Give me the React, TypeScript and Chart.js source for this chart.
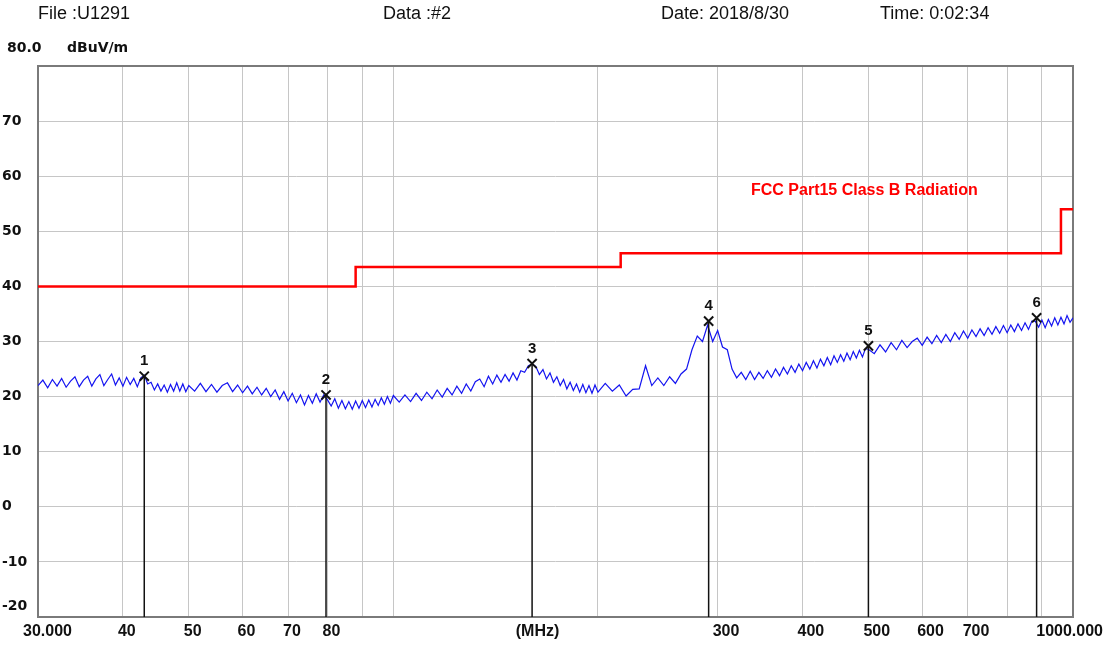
import React, { useEffect, useRef } from "react";
import { Chart, registerables } from "chart.js";

Chart.register(...registerables);

// ---------- data ----------
const headerTexts = ["File :U1291", "Data :#2", "Date: 2018/8/30", "Time: 0:02:34"];
const yTopLabel = "80.0";
const yUnit = "dBuV/m";
const xUnit = "(MHz)";
const limitName = "FCC Part15 Class B Radiation";

const xGridFreqs = [30, 40, 50, 60, 70, 80, 90, 100, 200, 300, 400, 500, 600, 700, 800, 900, 1000];
const xTickValues = [30, 40, 50, 60, 70, 80, 300, 400, 500, 600, 700, 1000];
const xTickLabels = ["30.000", "40", "50", "60", "70", "80", "300", "400", "500", "600", "700", "1000.000"];
const yTickValues = [70, 60, 50, 40, 30, 20, 10, 0, -10, -20];

const limitFreqs = [30, 88, 216, 960, 1000];
const limitLevels = [40, 43.5, 46, 54, 54];

const markerIds = ["1", "2", "3", "4", "5", "6"];
const markerFreqs = [43, 79.6, 160, 291, 500, 884];
const markerLevels = [23.7, 20.3, 26.0, 33.7, 29.2, 34.3];

const traceFreqs = [
  30, 30.5, 31, 31.5, 32, 32.5, 33, 33.5, 34, 34.5,
  35, 35.5, 36, 36.5, 37, 37.5, 38, 38.5, 39, 39.5,
  40, 40.5, 41, 41.5, 42, 42.5, 43, 43.5, 44, 44.5,
  45, 45.5, 46, 46.5, 47, 47.5, 48, 48.5, 49, 49.5,
  50,
  51, 52, 53, 54, 55, 56, 57, 58, 59, 60,
  61, 62, 63, 64, 65, 66, 67, 68, 69, 70,
  71, 72, 73, 74, 75, 76, 77, 78, 79, 80,
  81, 82, 83, 84, 85, 86, 87, 88, 89, 90,
  91, 92, 93, 94, 95, 96, 97, 98, 99, 100,
  102, 104, 106, 108, 110, 112, 114, 116, 118, 120,
  122, 124, 126, 128, 130, 132, 134, 136, 138, 140,
  142, 144, 146, 148, 150, 152, 154, 156, 158, 160,
  162, 164, 166, 168, 170, 172, 174, 176, 178, 180,
  182, 184, 186, 188, 190, 192, 194, 196, 198, 200,
  205, 210, 215, 220, 225, 230, 235, 240, 245, 250,
  255, 260, 265, 270, 275, 280, 285, 290, 295, 300,
  305, 310, 315, 320, 325, 330, 335, 340, 345, 350,
  355, 360, 365, 370, 375, 380, 385, 390, 395, 400,
  405, 410, 415, 420, 425, 430, 435, 440, 445, 450,
  455, 460, 465, 470, 475, 480, 485, 490, 495, 500,
  510, 520, 530, 540, 550, 560, 570, 580, 590, 600,
  610, 620, 630, 640, 650, 660, 670, 680, 690, 700,
  710, 720, 730, 740, 750, 760, 770, 780, 790, 800,
  810, 820, 830, 840, 850, 860, 870, 880, 890, 900,
  910, 920, 930, 940, 950, 960, 970, 980, 990, 1000,
];

const traceLevels = [
  22.0, 23.0, 21.6, 23.1, 21.9, 23.3, 21.7, 22.8, 23.6, 21.8,
  23.0, 23.7, 21.9, 23.2, 24.0, 22.0, 23.1, 24.1, 22.1, 23.4,
  21.9, 23.5, 22.2, 23.3, 21.8, 23.4, 23.9, 22.3, 22.6, 21.2,
  22.3, 21.0, 22.1, 20.8, 22.2, 21.0, 22.5, 21.0, 22.3, 20.9,
  22.0,
  21.0, 22.4, 20.9, 22.2, 20.8, 22.0, 22.5, 20.9, 22.1, 20.7,
  21.9, 20.5, 21.7, 20.3, 21.5, 20.0, 21.2, 19.5, 20.9, 19.2,
  20.6, 18.9, 20.3, 18.5, 20.2, 18.8, 20.5, 19.0, 20.3, 19.4,
  18.3, 19.6, 17.9, 19.3, 17.8, 19.1, 17.7, 19.2, 17.9, 19.3,
  18.0, 19.4, 18.1, 19.5, 18.4, 19.8, 18.6, 20.0, 18.8, 20.2,
  19.0, 20.3, 19.1, 20.6, 19.3, 20.8, 19.6, 21.2, 19.9, 21.5,
  20.3, 21.9, 20.6, 22.3, 21.0, 22.7, 23.2, 21.8, 23.7, 22.3,
  23.9, 22.6, 24.0, 22.8, 24.3, 23.0, 24.7, 24.4, 25.6, 25.9,
  25.5, 24.0, 24.9, 23.2, 24.3, 22.6, 23.6, 22.0, 23.1, 21.4,
  22.6, 21.1, 22.3, 20.8, 22.2, 20.7, 22.0, 20.6, 22.1, 20.8,
  22.4, 21.0, 22.1, 20.1, 21.3, 21.4, 25.6, 22.0, 23.4, 22.0,
  23.6, 22.4, 24.1, 25.0, 28.5, 31.0, 30.0, 33.0, 30.0, 32.0,
  29.0, 28.5, 25.0, 23.4, 24.4, 23.1, 24.6, 23.1, 24.4, 23.3,
  24.7, 23.5, 25.0, 23.8, 25.3, 24.1, 25.6, 24.4, 25.9, 24.7,
  26.2, 25.0, 26.5, 25.2, 26.8, 25.6, 27.1, 25.8, 27.4, 26.2,
  27.6, 26.4, 27.9, 26.7, 28.2, 27.0, 28.4, 27.2, 28.7, 28.6,
  27.8, 29.4, 28.1, 29.8, 28.5, 30.2, 28.9, 30.0, 30.6, 29.3,
  30.8, 29.6, 31.1, 29.8, 31.3, 30.0, 31.6, 30.4, 31.9, 30.6,
  32.1, 30.9, 32.3, 31.1, 32.5, 31.3, 32.7, 31.5, 32.9, 31.6,
  33.0, 31.8, 33.2, 32.0, 33.4, 32.2, 33.7, 33.7, 32.6, 33.9,
  32.5, 34.0, 32.8, 34.3, 33.0, 34.4, 33.2, 34.7, 33.5, 34.3,
];

const Y_MIN = -20;
const Y_MAX = 80;
const X_MIN = 30;
const X_MAX = 1000;

const BOLD_AXIS = "bold 14px 'DejaVu Sans', sans-serif";
const BOLD_X = "bold 16px 'Liberation Sans', Arial, sans-serif";
const HEADER_FONT = "18px 'Liberation Sans', Arial, sans-serif";

const overlayPlugin = {
  id: "emcOverlay",
  beforeDatasetsDraw(chart: any) {
    const { ctx, chartArea } = chart;
    ctx.save();
    ctx.strokeStyle = "#7a7a7a";
    ctx.lineWidth = 2;
    ctx.strokeRect(chartArea.left, chartArea.top, chartArea.right - chartArea.left, chartArea.bottom - chartArea.top);
    ctx.restore();
  },
  afterDraw(chart: any) {
    const { ctx, chartArea } = chart;
    const xs = chart.scales.x;
    const ys = chart.scales.y;
    ctx.save();
    ctx.textBaseline = "middle";

    // header line
    ctx.font = HEADER_FONT;
    ctx.fillStyle = "#111";
    ctx.textAlign = "left";
    const headerX = [38, 383, 661, 880];
    headerTexts.forEach((t, i) => ctx.fillText(t, headerX[i], 14));

    // y unit header
    ctx.font = "bold 14px 'DejaVu Sans', sans-serif";
    ctx.fillText(yTopLabel, 7, 48);
    ctx.fillText(yUnit, 67, 48);

    // y tick labels
    ctx.font = BOLD_AXIS;
    yTickValues.forEach((v) => {
      const py = Math.min(ys.getPixelForValue(v), chartArea.bottom - 11);
      ctx.fillText(String(v), 2, py);
    });

    // x tick labels
    ctx.font = BOLD_X;
    const ly = chartArea.bottom + 15;
    xTickValues.forEach((v, i) => {
      const px = xs.getPixelForValue(v);
      if (i === 0) {
        ctx.textAlign = "left";
        ctx.fillText(xTickLabels[i], px - 15, ly);
      } else if (i === xTickValues.length - 1) {
        ctx.textAlign = "right";
        ctx.fillText(xTickLabels[i], px + 30, ly);
      } else {
        ctx.textAlign = "left";
        ctx.fillText(xTickLabels[i], px - 5, ly);
      }
    });
    ctx.textAlign = "center";
    ctx.fillText(xUnit, (chartArea.left + chartArea.right) / 2 - 18, ly);

    // marker numbers
    ctx.font = "bold 15px 'Liberation Sans', Arial, sans-serif";
    ctx.fillStyle = "#111";
    ctx.textAlign = "center";
    markerIds.forEach((id, i) => {
      const px = xs.getPixelForValue(markerFreqs[i]);
      const py = ys.getPixelForValue(markerLevels[i]);
      ctx.fillText(id, px, py - 15);
    });

    // limit name
    ctx.font = "bold 16px 'Liberation Sans', Arial, sans-serif";
    ctx.fillStyle = "#ff0000";
    ctx.textAlign = "left";
    ctx.fillText(limitName, 751, 191);

    ctx.restore();
  },
};

export default function App() {
  const canvasRef = useRef<HTMLCanvasElement | null>(null);

  useEffect(() => {
    const canvas = canvasRef.current;
    if (!canvas) return;

    const traceData = traceFreqs.map((f, i) => ({ x: f, y: traceLevels[i] }));
    const limitData = limitFreqs.map((f, i) => ({ x: f, y: limitLevels[i] }));
    const markerPoints = markerFreqs.map((f, i) => ({ x: f, y: markerLevels[i] }));
    const markerStems: { x: number; y: number | null }[] = [];
    markerFreqs.forEach((f, i) => {
      markerStems.push({ x: f, y: markerLevels[i] });
      markerStems.push({ x: f, y: Y_MIN });
      markerStems.push({ x: f, y: null });
    });

    const chart = new Chart(canvas, {
      type: "line",
      data: {
        datasets: [
          {
            label: "Marker stems",
            data: markerStems as any,
            borderColor: "#111111",
            borderWidth: 1.5,
            pointRadius: 0,
            spanGaps: false,
            order: 1,
          },
          {
            label: "Level",
            data: traceData,
            borderColor: "#1414f0",
            borderWidth: 1.2,
            pointRadius: 0,
            tension: 0,
            order: 3,
          },
          {
            label: limitName,
            data: limitData,
            borderColor: "#ff0000",
            borderWidth: 2.5,
            pointRadius: 0,
            stepped: "before",
            order: 2,
          },
          {
            label: "Markers",
            data: markerPoints,
            showLine: false,
            pointStyle: "crossRot",
            pointRadius: 6.5,
            pointBorderWidth: 2,
            pointBorderColor: "#111111",
            borderColor: "#111111",
            order: 0,
          },
        ],
      },
      options: {
        animation: false,
        responsive: false,
        maintainAspectRatio: false,
        events: [],
        layout: { padding: { left: 38, right: 34, top: 66, bottom: 29 } },
        plugins: {
          legend: { display: false },
          tooltip: { enabled: false },
          title: { display: false },
        },
        scales: {
          x: {
            type: "logarithmic",
            min: X_MIN,
            max: X_MAX,
            afterBuildTicks: (scale: any) => {
              scale.ticks = xGridFreqs.map((v) => ({ value: v }));
            },
            afterFit: (scale: any) => {
              scale.height = 0;
            },
            ticks: { display: false },
            grid: { color: "#c6c6c6", lineWidth: 1, drawTicks: false },
            border: { display: false },
          },
          y: {
            type: "linear",
            min: Y_MIN,
            max: Y_MAX,
            ticks: { display: false, stepSize: 10 },
            afterFit: (scale: any) => {
              scale.width = 0;
            },
            grid: { color: "#c6c6c6", lineWidth: 1, drawTicks: false },
            border: { display: false },
          },
        },
      },
      plugins: [overlayPlugin],
    });

    return () => chart.destroy();
  }, []);

  return (
    <div style={{ position: "fixed", left: 0, top: 0, width: 1107, height: 646, background: "#ffffff" }}>
      <canvas ref={canvasRef} width={1107} height={646} style={{ display: "block" }} />
    </div>
  );
}
